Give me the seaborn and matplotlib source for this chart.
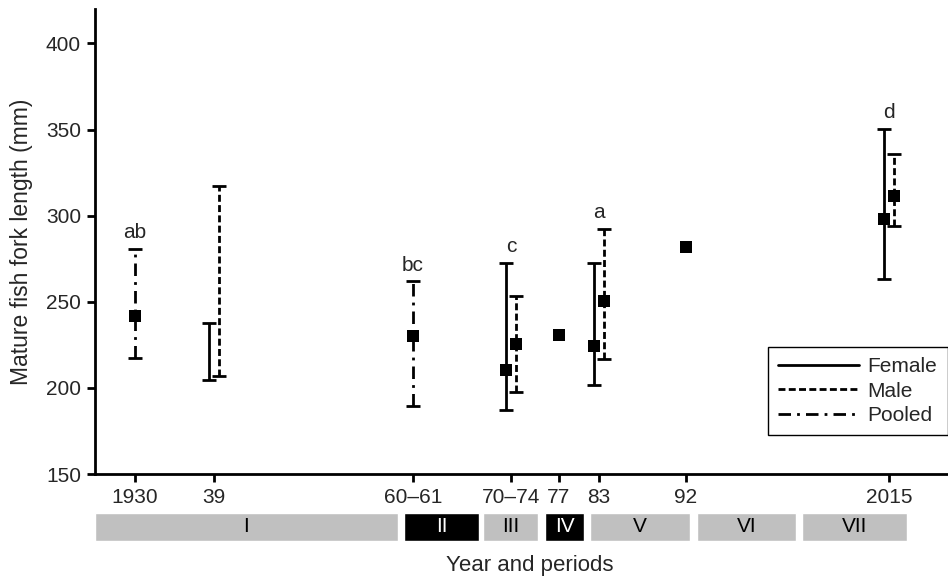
import matplotlib.pyplot as plt
from matplotlib.lines import Line2D
import numpy as np
import pandas as pd
import seaborn as sns

nan = np.nan

# groups on the x axis and the letters written above them
groups = ['1930', '39', '60–61', '70–74', '77', '83', '92', '2015']
letters = ['ab', '', 'bc', 'c', '', 'a', '', 'd']

# fork length (mm): mean and ends of the bar
female_mean = [nan, nan, nan, 210.5, nan, 224.2, nan, 298.3]
female_low = [nan, 204.5, nan, 187.2, nan, 201.7, nan, 263.2]
female_high = [nan, 237.6, nan, 272.7, nan, 272.3, nan, 350.4]

male_mean = [nan, nan, nan, 225.4, nan, 250.2, nan, 311.2]
male_low = [nan, 207.0, nan, 197.5, nan, 216.9, nan, 293.8]
male_high = [nan, 317.0, nan, 253.1, nan, 292.4, nan, 335.9]

pooled_mean = [241.5, nan, 230.4, nan, 231.0, nan, 281.8, nan]
pooled_low = [217.3, nan, 189.7, nan, nan, nan, nan, nan]
pooled_high = [280.8, nan, 261.8, nan, nan, nan, nan, nan]

# periods under the axis
periods = ['I', 'II', 'III', 'IV', 'V', 'VI', 'VII']
period_dark = [False, True, False, True, False, False, False]

# layout: where each group sits and the span of each period box
group_pos = [135, 214, 413, 511, 559, 599, 686, 889]
period_start = [95, 404, 483, 545, 590, 697, 802]
period_end = [398, 479, 538, 584, 690, 796, 907]

offsets = {'Female': -5, 'Male': 5, 'Pooled': 0}
styles = {'Female': '-', 'Male': (0, (2.5, 1.2)), 'Pooled': (0, (4.5, 2.2, 1.0, 2.2))}

rows = []
series = {'Female': (female_mean, female_low, female_high),
          'Male': (male_mean, male_low, male_high),
          'Pooled': (pooled_mean, pooled_low, pooled_high)}
for sex, (m, lo, hi) in series.items():
    for i, g in enumerate(groups):
        rows.append({'sex': sex, 'group': g, 'x': group_pos[i] + offsets[sex],
                     'mean': m[i], 'low': lo[i], 'high': hi[i]})
df = pd.DataFrame(rows)

sns.set_style('ticks')
plt.rcParams['font.family'] = ['Liberation Sans', 'DejaVu Sans']

fig = plt.figure(figsize=(9.48, 5.85), dpi=100)
ax = fig.add_axes([95 / 948, 111 / 585, 853 / 948, 465 / 585])

for sex in ['Female', 'Male', 'Pooled']:
    sub = df[(df.sex == sex) & df.low.notna()]
    eb = ax.errorbar(sub.x, (sub.low + sub.high) / 2, yerr=(sub.high - sub.low) / 2,
                     fmt='none', ecolor='black', elinewidth=2, capsize=5, capthick=2)
    eb[2][0].set_linestyle(styles[sex])

pts = df[df['mean'].notna()]
sns.scatterplot(data=pts, x='x', y='mean', marker='s', color='black', s=72,
                linewidth=0, ax=ax, legend=False, zorder=3)

# letters above the highest bar of each group
for i, lab in enumerate(letters):
    if lab:
        top = df[df.group == groups[i]]['high'].max()
        ax.annotate(lab, (group_pos[i], top), xytext=(0, 11.5), textcoords='offset points',
                    ha='center', va='center', fontsize=15)

ax.set_xlim(95, 948)
ax.set_ylim(150, 420)
ax.set_xticks(group_pos, groups)
ax.set_yticks(range(150, 401, 50))
ax.set_xlabel('')
ax.set_ylabel('Mature fish fork length (mm)', fontsize=16.5)
ax.yaxis.set_label_coords(-0.073, 0.5)
ax.tick_params(length=6, width=2, labelsize=15, pad=4, color='black')
sns.despine(ax=ax)
for s in ['left', 'bottom']:
    ax.spines[s].set_linewidth(2)
    ax.spines[s].set_color('black')

handles = [Line2D([], [], color='black', lw=2, linestyle=styles[s]) for s in styles]
leg = ax.legend(handles, list(styles), loc='upper left', bbox_to_anchor=(0.7885, 0.273),
                borderaxespad=0, fontsize=15, handlelength=3.9, handletextpad=0.4,
                labelspacing=0.25, fancybox=False, framealpha=1, borderpad=0.5)
leg.get_frame().set_edgecolor('black')
leg.get_frame().set_linewidth(1)

# period boxes
ax2 = fig.add_axes([95 / 948, 44 / 585, 853 / 948, 28 / 585])
ax2.set_xlim(95, 948)
ax2.set_ylim(0, 1)
ax2.axis('off')
widths = [e - s for s, e in zip(period_start, period_end)]
colors = ['black' if d else '#c0c0c0' for d in period_dark]
ax2.barh(0.5, widths, left=period_start, height=1, color=colors)
for name, s, e, d in zip(periods, period_start, period_end, period_dark):
    ax2.text((s + e) / 2, 0.5, name, ha='center', va='center', fontsize=15,
             color='white' if d else 'black')

fig.text(530 / 948, 1 - 565 / 585, 'Year and periods', ha='center', va='center', fontsize=16)

fig.savefig('out.png', dpi=100)
